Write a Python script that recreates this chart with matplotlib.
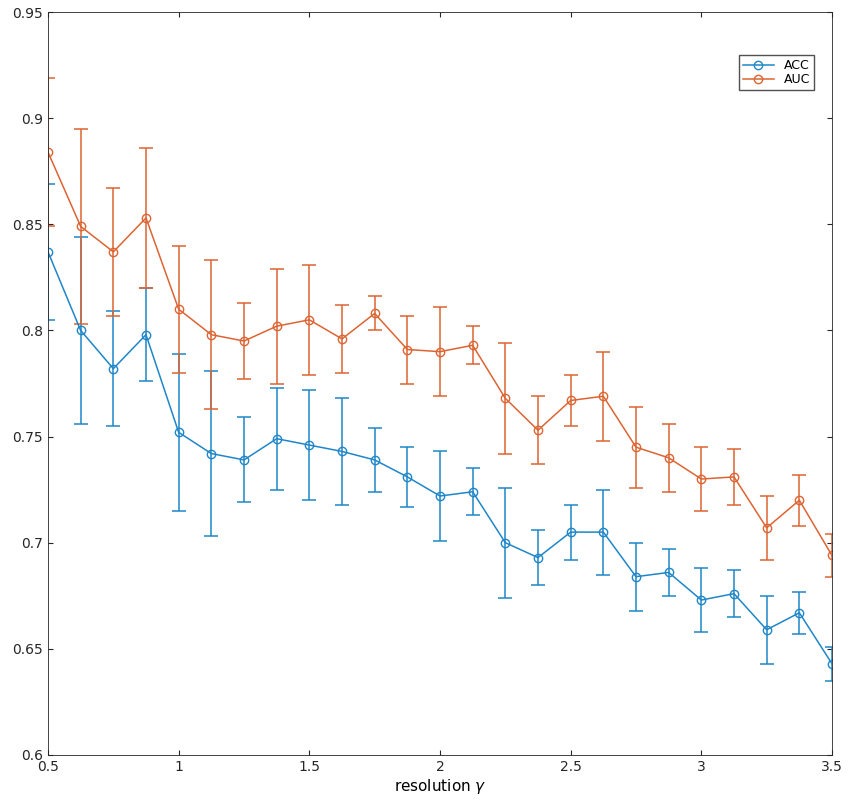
import matplotlib
matplotlib.use("Agg")
import matplotlib.pyplot as plt
from matplotlib.lines import Line2D
import numpy as np

gamma = [0.5 + 0.125 * i for i in range(25)]
acc = [0.837, 0.800, 0.782, 0.798, 0.752, 0.742, 0.739, 0.749, 0.746, 0.743, 0.739, 0.731, 0.722,
       0.724, 0.700, 0.693, 0.705, 0.705, 0.684, 0.686, 0.673, 0.676, 0.659, 0.667, 0.643]
acc_err = [0.032, 0.044, 0.027, 0.022, 0.037, 0.039, 0.020, 0.024, 0.026, 0.025, 0.015, 0.014, 0.021,
           0.011, 0.026, 0.013, 0.013, 0.020, 0.016, 0.011, 0.015, 0.011, 0.016, 0.010, 0.008]
auc = [0.884, 0.849, 0.837, 0.853, 0.810, 0.798, 0.795, 0.802, 0.805, 0.796, 0.808, 0.791, 0.790,
       0.793, 0.768, 0.753, 0.767, 0.769, 0.745, 0.740, 0.730, 0.731, 0.707, 0.720, 0.694]
auc_err = [0.035, 0.046, 0.030, 0.033, 0.030, 0.035, 0.018, 0.027, 0.026, 0.016, 0.008, 0.016, 0.021,
           0.009, 0.026, 0.016, 0.012, 0.021, 0.019, 0.016, 0.015, 0.013, 0.015, 0.012, 0.010]

c_acc, c_auc = '#1f86c8', '#dd6433'
fig = plt.figure(figsize=(8.48, 8.10), dpi=100)
ax = fig.add_axes([48/848, 55/810, (832-48)/848, (755-12)/810])
kw = dict(marker='o', mfc='none', ms=6, lw=1.1, capsize=5, elinewidth=1.1, capthick=1.1)
ax.errorbar(gamma, acc, yerr=acc_err, color=c_acc, **kw)
ax.errorbar(gamma, auc, yerr=auc_err, color=c_auc, **kw)
ax.set_xlim(0.5, 3.5)
ax.set_ylim(0.6, 0.95)
ax.set_xticks([0.5, 1, 1.5, 2, 2.5, 3, 3.5])
ax.set_xticklabels(['0.5', '1', '1.5', '2', '2.5', '3', '3.5'])
ax.set_yticks(np.arange(0.6, 0.951, 0.05))
ax.set_yticklabels(['0.6', '0.65', '0.7', '0.75', '0.8', '0.85', '0.9', '0.95'])
ax.tick_params(direction='in', top=True, right=True, labelsize=10, colors='#262626')
for s in ax.spines.values():
    s.set_color('#262626'); s.set_linewidth(0.6)
ax.set_xlabel(r'resolution $\gamma$', fontsize=11, labelpad=2)
handles = [Line2D([], [], color=c_acc, marker='o', mfc='none', ms=6, lw=1.1),
           Line2D([], [], color=c_auc, marker='o', mfc='none', ms=6, lw=1.1)]
ax.legend(handles, ['ACC', 'AUC'], loc='upper right', bbox_to_anchor=(0.985, 0.95), fontsize=9,
          fancybox=False, edgecolor='#262626', handlelength=2.5, borderpad=0.3, labelspacing=0.1)
fig.savefig('out.png', dpi=100)
